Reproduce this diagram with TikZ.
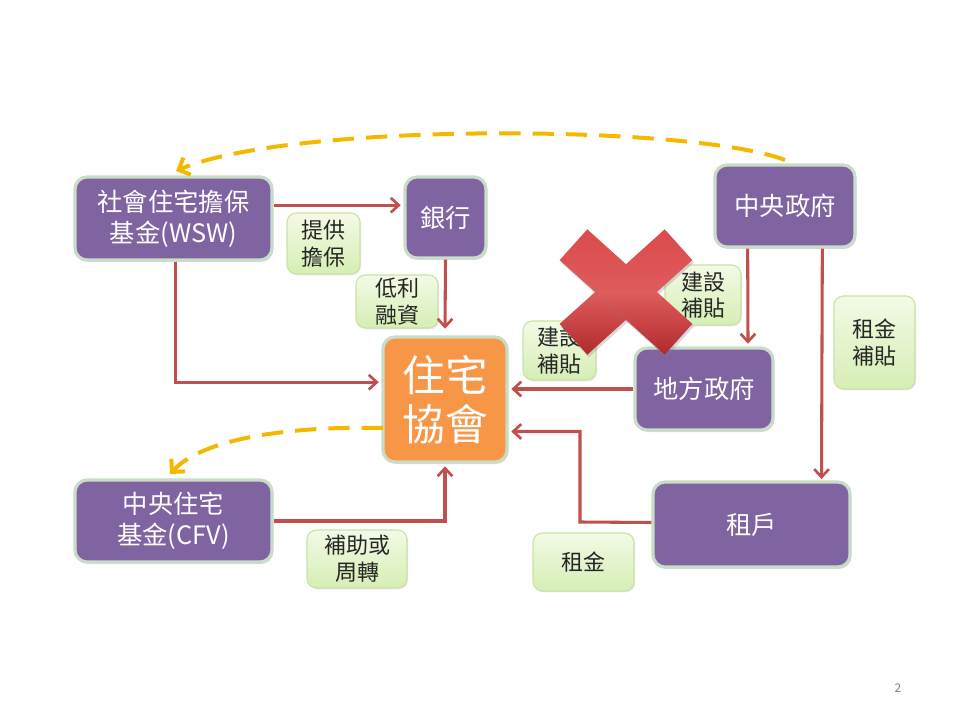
\documentclass[tikz,border=0pt]{standalone}
\usepackage{fontspec}
\setmainfont{Noto Sans CJK TC}
\usetikzlibrary{arrows.meta,shadows,calc}
\definecolor{purp}{HTML}{8064A2}
\definecolor{pborder}{HTML}{C8DCC6}
\definecolor{redarr}{HTML}{C0504D}
\definecolor{orng}{HTML}{F79646}
\definecolor{gold}{HTML}{F5B800}
\definecolor{gtop}{HTML}{F3FAE6}
\definecolor{gbot}{HTML}{D6EEB4}
\definecolor{gborder}{HTML}{C9E2A8}
\definecolor{xtop}{HTML}{DB4A4B}
\definecolor{xbot}{HTML}{B02A2C}
\tikzset{
  mainbox/.style={draw=pborder, line width=2.4pt, fill=purp, rounded corners=9pt,
    text=white, font=\fontsize{19}{23}\selectfont, align=center, inner sep=0pt,
    drop shadow={opacity=0.25, shadow xshift=1pt, shadow yshift=-1.5pt}},
  hubbox/.style={mainbox, fill=orng, font=\fontsize{32}{37}\selectfont},
  lbl/.style={draw=gborder, line width=0.8pt, top color=gtop, bottom color=gbot,
    rounded corners=7pt, text=black!85, font=\fontsize{16.5}{20}\selectfont,
    align=center, inner sep=0pt,
    drop shadow={opacity=0.18, shadow xshift=0.8pt, shadow yshift=-1pt}},
  arr/.style={draw=redarr, line width=2.3pt, -{Straight Barb[length=6pt,width=11pt,line width=2pt]}},
  dsh/.style={draw=gold, line width=3pt, dash pattern=on 16pt off 9pt,
    -{Straight Barb[length=7pt,width=14pt,line width=3pt]}},
  xarm/.style={shade, top color=xtop, bottom color=xbot, middle color=xtop!90!white, shading angle=0,
    minimum width=106pt, minimum height=31pt, inner sep=0pt,
    drop shadow={opacity=0.3, shadow xshift=1pt, shadow yshift=-2pt}}
}
\begin{document}
\begin{tikzpicture}[x=0.75pt,y=-0.75pt]
\useasboundingbox (0,0) rectangle (960,720);
% main boxes
\node[mainbox, minimum width=197*0.75pt, minimum height=83*0.75pt] (wsw) at (173.5,218.5) {社會住宅擔保\\基金(WSW)};
\node[mainbox, minimum width=81*0.75pt, minimum height=81*0.75pt] (bank) at (445.5,217.5) {銀行};
\node[mainbox, minimum width=140*0.75pt, minimum height=82*0.75pt] (cgov) at (785,206) {中央政府};
\node[hubbox, minimum width=124*0.75pt, minimum height=125*0.75pt] (hub) at (445,399.5) {住宅\\協會};
\node[mainbox, minimum width=138*0.75pt, minimum height=82*0.75pt] (lgov) at (704,389) {地方政府};
\node[mainbox, minimum width=197*0.75pt, minimum height=82*0.75pt] (cfv) at (173.5,521) {中央住宅\\基金(CFV)};
\node[mainbox, minimum width=197*0.75pt, minimum height=85*0.75pt] (tenant) at (751.5,524.5) {租戶};
% labels
\node[lbl, minimum width=73*0.75pt, minimum height=61*0.75pt] (l1) at (323.5,243.5) {提供\\擔保};
\node[lbl, minimum width=82*0.75pt, minimum height=53*0.75pt] (l2) at (397,301.5) {低利\\融資};
\node[lbl, minimum width=73*0.75pt, minimum height=59*0.75pt] (l3) at (559.5,350.5) {建設\\補貼};
\node[lbl, minimum width=76*0.75pt, minimum height=60*0.75pt] (l4) at (703,295) {建設\\補貼};
\node[lbl, minimum width=81*0.75pt, minimum height=93*0.75pt] (l5) at (874.5,342.5) {租金\\補貼};
\node[lbl, minimum width=100*0.75pt, minimum height=58*0.75pt] (l6) at (357,559) {補助或\\周轉};
\node[lbl, minimum width=101*0.75pt, minimum height=58*0.75pt] (l7) at (583.5,562) {租金};
% red arrows
\draw[arr] ([yshift=10pt]wsw.east) -- ([yshift=10pt,xshift=-2pt]wsw.east -| bank.west);
\draw[arr] (bank.south) -- ([yshift=5pt]hub.north);
\draw[arr] ([xshift=1.5pt]wsw.south) |- ([xshift=-2pt,yshift=13pt]hub.west);
\draw[arr] (lgov.west) -- ([xshift=2pt]lgov.west -| hub.east);
\draw[arr] ([xshift=-28pt]cgov.south) -- ([xshift=33pt,yshift=2pt]lgov.north);
\draw[arr] ([xshift=28pt]cgov.south) -- ([xshift=52.5pt,yshift=1pt]tenant.north);
\coordinate (tturn) at (580,522);
\draw[arr] ([yshift=1.5pt]tenant.west) -- (tturn) |- ([xshift=2pt,yshift=-24pt]hub.east);
\draw[arr] (cfv.east) -| ([yshift=-2pt]hub.south);
% dashed arrows
\coordinate (dtop) at (785,160);
\coordinate (dwsw) at (176,171);
\draw[dsh] (dtop) .. controls (690,124) and (290,122) .. (dwsw);
\coordinate (dhub) at (383,428);
\coordinate (dcfv) at (170,474);
\draw[dsh] (dhub) .. controls (300,426) and (205,436) .. (dcfv);
% red X
\node[xarm, rotate=42] (xa) at (626,292) {};
\node[xarm, rotate=-42] (xb) at (626,292) {};
% page number
\node[text=black!50, font=\fontsize{9}{10}\selectfont] (pg) at (898,688) {2};
\end{tikzpicture}
\end{document}
